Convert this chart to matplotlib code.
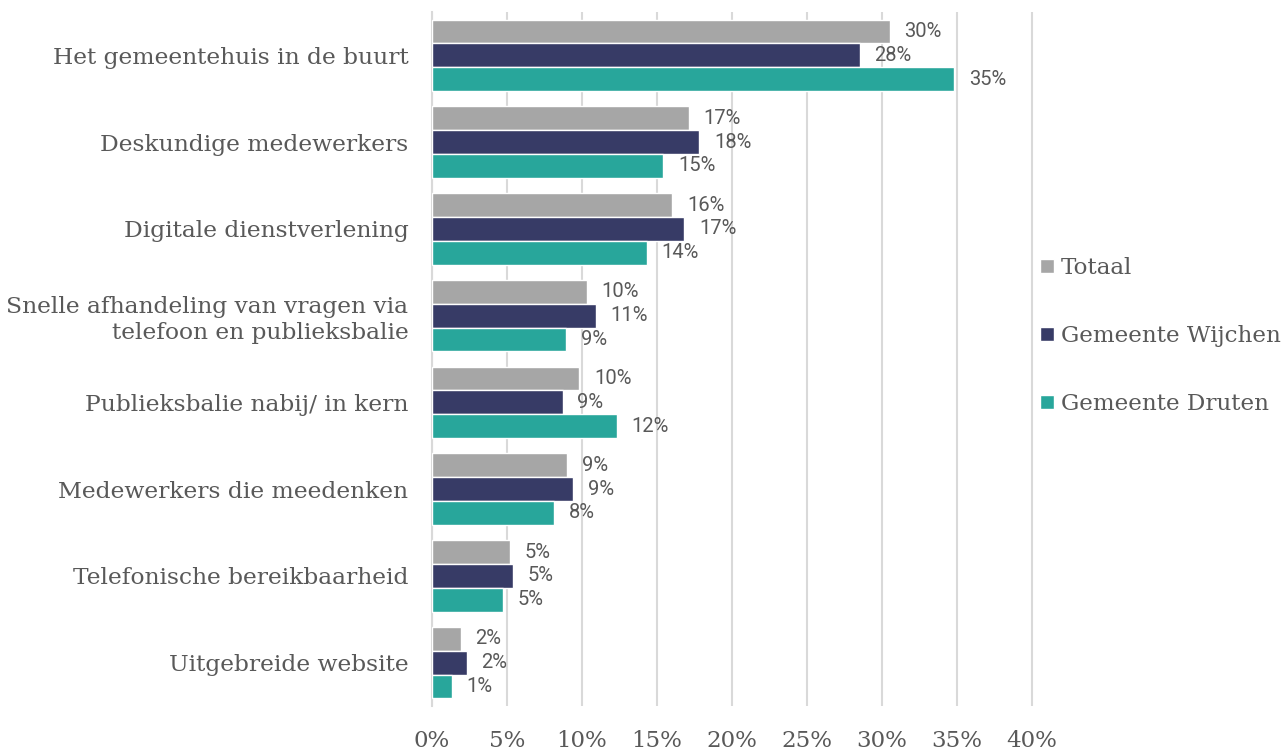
import numpy as np
import matplotlib.pyplot as plt
from matplotlib.ticker import PercentFormatter

categories = [
    "Het gemeentehuis in de buurt",
    "Deskundige medewerkers",
    "Digitale dienstverlening",
    "Snelle afhandeling van vragen via\ntelefoon en publieksbalie",
    "Publieksbalie nabij/ in kern",
    "Medewerkers die meedenken",
    "Telefonische bereikbaarheid",
    "Uitgebreide website",
]
series_names = ["Totaal", "Gemeente Wijchen", "Gemeente Druten"]
totaal = [30.5, 17.1, 16.0, 10.3, 9.8, 9.0, 5.2, 1.9]
wijchen = [28.5, 17.8, 16.8, 10.9, 8.7, 9.4, 5.4, 2.3]
druten = [34.8, 15.4, 14.3, 8.9, 12.3, 8.1, 4.7, 1.3]
colors = ["#A6A6A6", "#373B66", "#28A69B"]

serif = "DejaVu Serif"
txt_col = "#595959"

fig = plt.figure(figsize=(12.87, 7.51), dpi=100)
ax = fig.add_axes([432 / 1287, 1 - 706 / 751, 601.5 / 1287, 694 / 751])

y = np.arange(len(categories))
h = 0.275
for k, (vals, name) in enumerate(zip([totaal, wijchen, druten], series_names)):
    pos = y + (k - 1) * h
    ax.barh(pos, vals, height=h, color=colors[k], edgecolor="white",
            linewidth=1, label=name, zorder=3)
    for p, v in zip(pos, vals):
        ax.text(v + 1.0, p, f"{round(v):.0f}%", va="center", ha="left",
                fontsize=14.5, color=txt_col, family="Roboto")

ax.set_ylim(len(categories) - 0.5, -0.5)
ax.set_xlim(0, 40.1)
ax.set_xticks(np.arange(0, 41, 5))
ax.xaxis.set_major_formatter(PercentFormatter(decimals=0))
ax.set_yticks(y)
ax.set_yticklabels(categories, family=serif, fontsize=16.8, color=txt_col)
for lab in ax.get_xticklabels():
    lab.set_family(serif)
    lab.set_fontsize(16.5)
    lab.set_color(txt_col)
ax.tick_params(axis="y", length=0, pad=17)
ax.tick_params(axis="x", length=0, pad=17)
ax.grid(axis="x", color="#D9D9D9", linewidth=1.5, zorder=0)
for s in ["top", "right", "bottom"]:
    ax.spines[s].set_visible(False)
ax.spines["left"].set_color("#D9D9D9")
ax.spines["left"].set_linewidth(1.5)

leg = ax.legend(loc="center left", bbox_to_anchor=(1.0, 0.533), frameon=False,
                prop={"family": serif, "size": 16.6}, handlelength=0.6,
                handleheight=0.6, handletextpad=0.3, labelspacing=2.0,
                borderaxespad=0.0, borderpad=0.3)
for t in leg.get_texts():
    t.set_color(txt_col)

fig.savefig("out.png", dpi=100)
